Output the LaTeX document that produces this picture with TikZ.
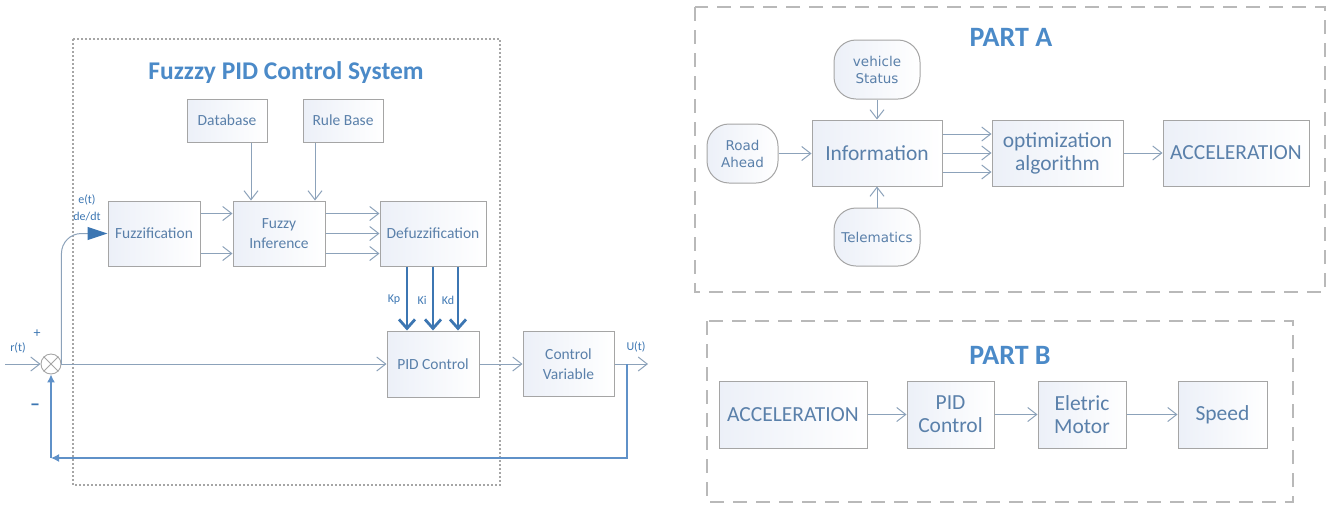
\documentclass[tikz,border=0pt]{standalone}
\usepackage{fontspec}
\setmainfont{Carlito}
\newfontfamily\dvs{DejaVu Sans}
\usetikzlibrary{arrows.meta,calc}
\definecolor{ttl}{RGB}{75,138,200}
\definecolor{btxt}{RGB}{90,128,170}
\definecolor{bdr}{RGB}{165,165,165}
\definecolor{arr}{RGB}{140,162,186}
\definecolor{thk}{RGB}{60,118,178}
\definecolor{fbk}{RGB}{95,145,200}
\definecolor{frm}{RGB}{185,185,185}
\definecolor{shd}{RGB}{236,240,248}
\begin{document}
\begin{tikzpicture}[x=1pt,y=-1pt,
  box/.style={draw=bdr, line width=1pt, left color=shd, right color=white, text=btxt, align=center, inner sep=0pt},
  rbox/.style={box, rounded corners=22pt, font=\dvs\fontsize{13.5}{17}\selectfont},
  lf/.style={font=\fontsize{15.5}{20}\selectfont},
  bf/.style={font=\fontsize{21.5}{23}\selectfont},
  lbl/.style={text=thk, inner sep=0pt, font=\fontsize{12}{13}\selectfont},
  ttlstyle/.style={text=ttl, inner sep=0pt, font=\bfseries\fontsize{#1}{#1}\selectfont},
  ar/.style={draw=arr, line width=1pt, -{Straight Barb[length=9pt,width=14pt]}},
  kar/.style={draw=thk, line width=2.8pt, -{Straight Barb[length=9pt,width=16pt]}},
  fb/.style={draw=fbk, line width=1.4pt, -{Latex[length=8pt,width=8pt]}},
  dframe/.style={draw=frm, line width=2pt, dash pattern=on 14pt off 9pt},
  pframe/.style={draw=frm!90!black, line width=1.2pt, dash pattern=on 2pt off 2pt}
]
\useasboundingbox (0,0) rectangle (1341,504);

% ---------------- left panel ----------------
\draw[pframe] (73,39) rectangle (500,485);
\node[ttlstyle=25.5] (t1) at (286,73) {Fuzzzy PID Control System};

\node[box, lf, minimum width=80, minimum height=43] (db) at (227,120.5) {Database};
\node[box, lf, minimum width=80, minimum height=43] (rb) at (343,120.5) {Rule Base};
\node[box, lf, minimum width=92, minimum height=65] (fuz) at (154,233.5) {Fuzzification};
\node[box, lf, minimum width=92, minimum height=65] (inf) at (279,233.5) {Fuzzy\\Inference};
\node[box, lf, minimum width=106, minimum height=65] (defuz) at (433,233.5) {Defuzzification};
\node[box, lf, minimum width=92, minimum height=66] (pid) at (433,364) {PID Control};
\node[box, lf, minimum width=91, minimum height=65] (cv) at (568.5,364) {Control\\Variable};

\node[draw=bdr, line width=0.9pt, circle, minimum size=20, inner sep=0pt, fill=white] (sum) at (51,364) {};
\draw[bdr, line width=0.9pt] (sum.north west) -- (sum.south east) (sum.north east) -- (sum.south west);

\draw[ar] ([xshift=24]db.south) -- ([xshift=24]db.south |- inf.north);
\draw[ar] ([xshift=-28]rb.south) -- ([xshift=-28]rb.south |- inf.north);
\draw[ar] ([yshift=20]fuz.east) -- ([yshift=20]inf.west);
\draw[ar] ([yshift=-20]fuz.east) -- ([yshift=-20]inf.west);
\draw[ar] ([yshift=20]inf.east) -- ([yshift=20]defuz.west);
\draw[ar] (inf.east) -- (defuz.west);
\draw[ar] ([yshift=-20]inf.east) -- ([yshift=-20]defuz.west);
\foreach \dx in {-26,0,25}
  \draw[kar] ([xshift=\dx]defuz.south) -- ([xshift=\dx]pid.north);
\node[lbl] (kp) at (394,300) {Kp};
\node[lbl] (ki) at (422,300) {Ki};
\node[lbl] (kd) at (448,300) {Kd};

\coordinate (in) at (5,364);
\draw[ar] (in) -- (sum.west);
\draw[ar] (sum.east) -- (pid.west);
\draw[draw=arr, line width=1pt, rounded corners=20pt, -{Triangle[length=20pt,width=13pt,color=thk]}] (sum.east) |- (fuz.west);
\draw[ar] (pid.east) -- (cv.west);
\coordinate (out) at (648,364);
\draw[ar] (cv.east) -- (out);
\coordinate (tap) at (627,364);
\coordinate (fbc) at (51,458);
\draw[fb] (tap) |- (fbc);
\draw[fb] (fbc) -- (sum.south);

\node[lbl] (et) at (87,200) {e(t)};
\node[lbl] (dedt) at (87,217) {de/dt};
\node[lbl] (rt) at (18,348) {r(t)};
\node[lbl, font=\fontsize{14}{14}\selectfont] (plus) at (37,334) {+};
\node[lbl, font=\bfseries\fontsize{20}{20}\selectfont] (minus) at (35,407) {--};
\node[lbl] (ut) at (636,347) {U(t)};

% ---------------- part A ----------------
\draw[dframe] (695,7) rectangle (1325,292);
\node[ttlstyle=28] (ta) at (1011,37) {PART A};
\node[rbox, minimum width=86, minimum height=59] (vs) at (877,69.5) {vehicle\\Status};
\node[rbox, minimum width=71, minimum height=59] (road) at (742.5,153.5) {Road\\Ahead};
\node[box, bf, minimum width=130, minimum height=66] (info) at (877,153) {Information};
\node[rbox, minimum width=86, minimum height=58] (tel) at (877,237) {Telematics};
\node[box, bf, minimum width=131, minimum height=66] (opt) at (1057.5,153) {optimization\\algorithm};
\node[box, bf, minimum width=146, minimum height=66] (acca) at (1236,153) {ACCELERATION};
\draw[ar] (vs) -- (info);
\draw[ar] (tel) -- (info);
\draw[ar] (road) -- (info.west |- road.east);
\draw[ar] ([yshift=19]info.east) -- ([yshift=19]opt.west);
\draw[ar] (info.east) -- (opt.west);
\draw[ar] ([yshift=-19]info.east) -- ([yshift=-19]opt.west);
\draw[ar] (opt) -- (acca);

% ---------------- part B ----------------
\draw[dframe] (707,321) rectangle (1293,502);
\node[ttlstyle=28] (tb) at (1010,355) {PART B};
\node[box, bf, minimum width=148, minimum height=67] (accb) at (793,414.5) {ACCELERATION};
\node[box, bf, minimum width=87, minimum height=67] (pidb) at (950.5,414.5) {PID\\Control};
\node[box, bf, minimum width=88, minimum height=67] (em) at (1082,414.5) {Eletric\\Motor};
\node[box, bf, minimum width=89, minimum height=67] (spd) at (1222.5,414.5) {Speed};
\draw[ar] (accb) -- (pidb);
\draw[ar] (pidb) -- (em);
\draw[ar] (em) -- (spd);
\end{tikzpicture}
\end{document}
